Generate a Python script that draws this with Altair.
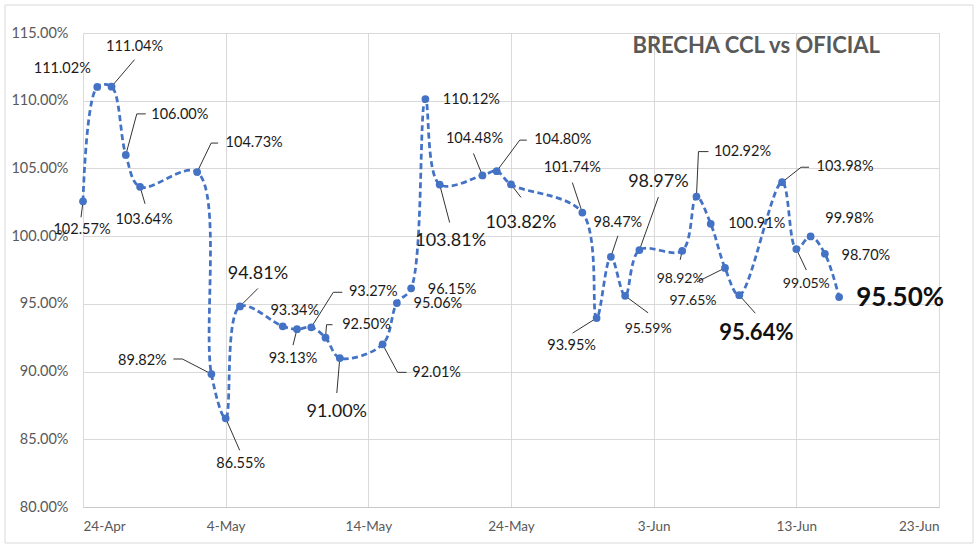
import altair as alt
import pandas as pd

# ---------------- data ----------------
dates = ["2023-04-24", "2023-04-25", "2023-04-26", "2023-04-27", "2023-04-28",
         "2023-05-02", "2023-05-03", "2023-05-04", "2023-05-05",
         "2023-05-08", "2023-05-09", "2023-05-10", "2023-05-11", "2023-05-12",
         "2023-05-15", "2023-05-16", "2023-05-17", "2023-05-18", "2023-05-19",
         "2023-05-22", "2023-05-23", "2023-05-24",
         "2023-05-29", "2023-05-30", "2023-05-31", "2023-06-01", "2023-06-02",
         "2023-06-05", "2023-06-06", "2023-06-07", "2023-06-08", "2023-06-09",
         "2023-06-12", "2023-06-13", "2023-06-14", "2023-06-15", "2023-06-16"]
values = [102.57, 111.02, 111.04, 106.00, 103.64,
          104.73, 89.82, 86.55, 94.81,
          93.34, 93.13, 93.27, 92.50, 91.00,
          92.01, 95.06, 96.15, 110.12, 103.81,
          104.48, 104.80, 103.82,
          101.74, 93.95, 98.47, 95.59, 98.97,
          98.92, 102.92, 100.91, 97.65, 95.64,
          103.98, 99.05, 99.98, 98.70, 95.50]
x_ticks = ["2023-04-24", "2023-05-04", "2023-05-14", "2023-05-24",
           "2023-06-03", "2023-06-13", "2023-06-23"]
y_ticks = [80, 85, 90, 95, 100, 105, 110, 115]
title_text = "BRECHA CCL vs OFICIAL"

# ---------------- label layout (pixel offsets from each point) ----------------
label_dx = [-1, -35, 23, 54, 4, 57, -69, 15, 18, 12, -4, 62, 41, -3, 54, 41, 41, 46, 11,
            -8, 66, 10, -10, -25, 7, 23, 19, -2, 46, 46, -32, 17, 63, 10, 39, 41, 61]
label_dy = [29, -18, -40, -40, 33, -29, -13, 46, -32, -15, 30, -35, -13, 54, 29, 1, 2, 1, 56,
            -36, -31, 39, -45, 28, -34, 33, -68, 28, -45, 0, 33, 38, -15, 35, -17, 2, 1]
label_size = [14.5, 14.5, 14.5, 14.5, 14.5, 14.5, 14.5, 14.5, 18, 14.5, 14.5, 14.5, 14.5, 18,
              14.5, 14.5, 14.5, 14.5, 18, 14.5, 14.5, 18, 14.5, 14.5, 14.5, 14, 18, 14,
              14.5, 14.5, 14, 22, 14.5, 14, 14.5, 14.5, 26]
label_bold = [False] * 31 + [True] + [False] * 4 + [True]
# leader line: elbow offset (None = no leader) and horizontal hook length
elbow_dx = [-2, None, 23, 11, 5, 14, -29, 14, 18, None, -4, 22, 1, -3, 15, None, None, None, 10,
            -9, 23, 10, -10, -24, 7, 23, 19, -2, 2, None, -28, 16, 19, 10, None, None, None]
elbow_dy = [16, None, -27, -41, 17, -29, -15, 32, -18, None, 16, -35, -13, 35, 28, None, None, None, 38,
            -22, -31, 13, -30, 15, -21, 17, -53, 9, -45, None, 14, 18, -15, 21, None, None, None]
hook = [0, 0, 0, 9, 0, 7, -9, 0, 0, 0, 0, 9, 6, 0, 9, 0, 0, 0, 0,
        0, 7, 0, 0, 0, 0, 0, 0, 0, 10, 0, 0, 0, 8, 0, 0, 0, 0]

# ---------------- geometry ----------------
W, H = 856, 474
Y_MIN, Y_MAX = 0.80, 1.15
FONT = "Lato"
BLUE = "#4472C4"


def ms(d):
    return int(pd.Timestamp(d).value // 10**6)


ms_per_px = (ms(x_ticks[-1]) - ms(x_ticks[0])) / W
u_per_px = (Y_MAX - Y_MIN) / H

rows = []
for i, (d, v) in enumerate(zip(dates, values)):
    t = ms(d)
    f = v / 100.0
    r = dict(t=t, v=f, label=f"{v:.2f}%",
             lt=t + label_dx[i] * ms_per_px, lv=f - label_dy[i] * u_per_px,
             size=label_size[i], bold=label_bold[i],
             leader=elbow_dx[i] is not None, hooked=hook[i] != 0)
    if elbow_dx[i] is not None:
        r["et"] = t + elbow_dx[i] * ms_per_px
        r["ev"] = f - elbow_dy[i] * u_per_px
        r["ht"] = r["et"] + hook[i] * ms_per_px
    else:
        r["et"] = t
        r["ev"] = f
        r["ht"] = t
    rows.append(r)
df = pd.DataFrame(rows)

# title anchored (right end) in data space, inside the plot area like the original
title_df = pd.DataFrame([{"t": ms(x_ticks[-1]) - 59 * ms_per_px,
                          "v": Y_MAX - 13 * u_per_px, "text": title_text}])

x_scale = alt.Scale(type="utc", domain=[ms(x_ticks[0]), ms(x_ticks[-1])])
y_scale = alt.Scale(domain=[Y_MIN, Y_MAX], nice=False, zero=False)

x_axis = alt.Axis(values=[ms(d) for d in x_ticks],
                  labelExpr="utcFormat(datum.value, '%-d-%b')",
                  grid=True, gridColor="#d9d9d9", ticks=False,
                  domainColor="#c8c8c8", labelColor="#595959",
                  labelFont=FONT, labelFontSize=13.5, labelPadding=12, title=None)
y_axis = alt.Axis(values=[y / 100 for y in y_ticks], format=".2%",
                  grid=True, gridColor="#d9d9d9", ticks=False, domain=False,
                  labelColor="#595959", labelFont=FONT, labelFontSize=14.5,
                  labelPadding=15, title=None)

base = alt.Chart(df)

frame = alt.Chart(title_df).mark_rect(
    fill=None, stroke="#d9d9d9", strokeWidth=1).encode(
    x=alt.value(-78), x2=alt.value(W + 34), y=alt.value(-28), y2=alt.value(H + 36))

line = base.mark_line(interpolate="catmull-rom", strokeDash=[6, 3.5], strokeWidth=2.75,
                      color=BLUE).encode(
    x=alt.X("t:T", scale=x_scale, axis=x_axis),
    y=alt.Y("v:Q", scale=y_scale, axis=y_axis),
)

lead1 = base.transform_filter("datum.leader").mark_rule(
    color="#333333", strokeWidth=1).encode(
    x="t:T", y="v:Q", x2="et", y2="ev")

lead2 = base.transform_filter("datum.hooked").mark_rule(
    color="#333333", strokeWidth=1).encode(
    x="et:T", y="ev:Q", x2="ht", y2="ev")

points = base.mark_circle(size=60, color=BLUE, opacity=1).encode(
    x="t:T", y="v:Q")

text_normal = base.transform_filter("!datum.bold").mark_text(
    font=FONT, color="#1a1a1a", align="center", baseline="middle").encode(
    x="lt:T", y="lv:Q", text="label:N",
    size=alt.Size("size:Q", scale=None, legend=None))

text_bold = base.transform_filter("datum.bold").mark_text(
    font=FONT, color="#111111", fontWeight="bold", align="center",
    baseline="middle").encode(
    x="lt:T", y="lv:Q", text="label:N",
    size=alt.Size("size:Q", scale=None, legend=None))

title = alt.Chart(title_df).mark_text(
    font=FONT, fontSize=22, fontWeight="bold", color="#595959",
    align="right", baseline="middle").encode(
    x="t:T", y="v:Q", text="text:N")

chart = alt.layer(frame, line, lead1, lead2, points, text_normal, text_bold, title).properties(
    width=W, height=H,
    autosize=alt.AutoSizeParams(type="none"),
    padding={"left": 83, "top": 33, "right": 41, "bottom": 42},
).configure_view(stroke=None).configure(background="white")

chart.save("out.html", embed_options={"renderer": "svg", "actions": False})
